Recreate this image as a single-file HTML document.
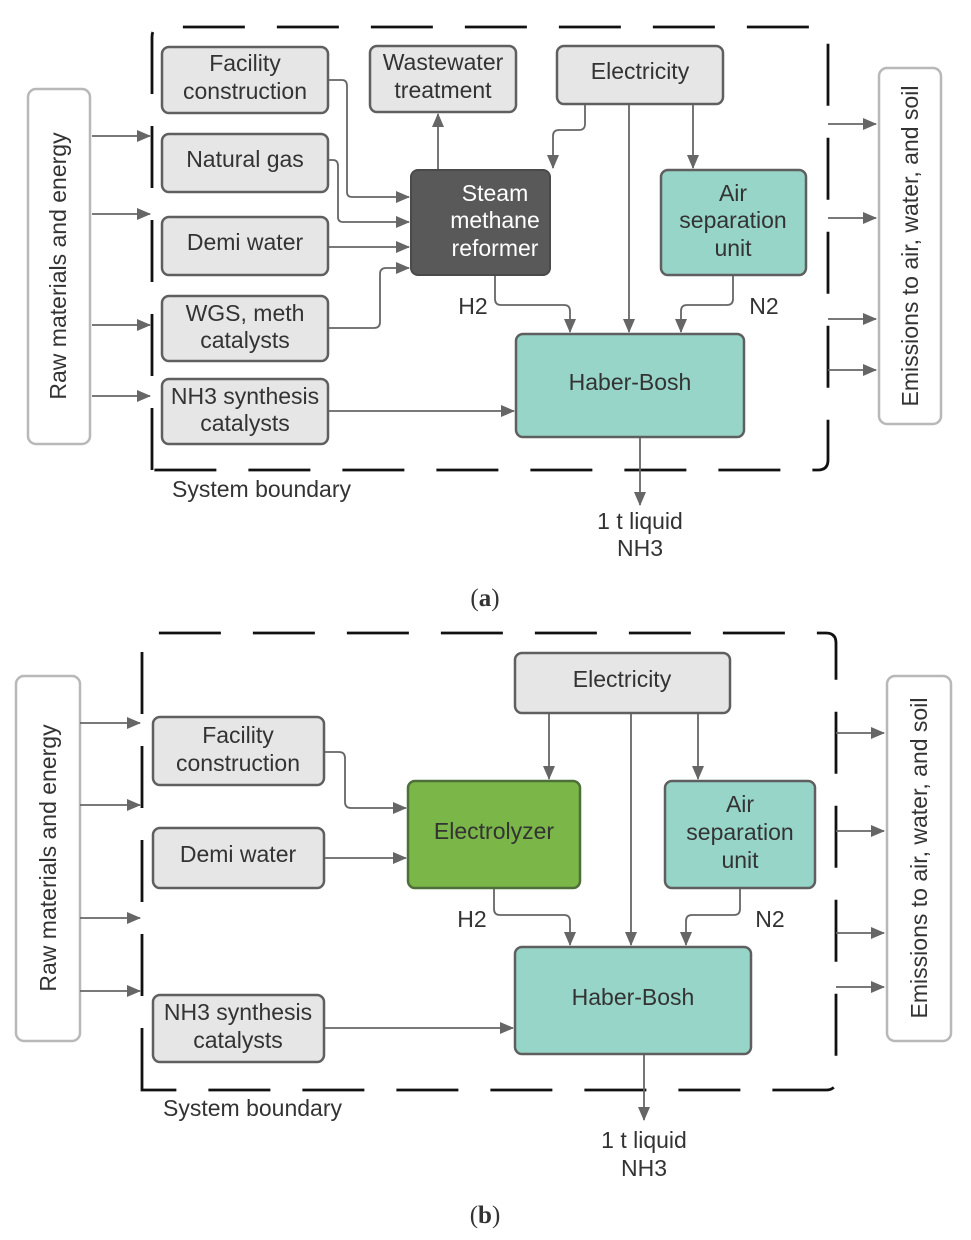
<!DOCTYPE html>
<html><head><meta charset="utf-8"><style>
html,body{margin:0;padding:0;background:#fff;}
svg{display:block;}
text{font-family:"Liberation Sans",sans-serif;fill:#333;}
.b{fill:#e6e6e6;stroke:#5f5f5f;stroke-width:2.5;}
.t{fill:#97d5c9;stroke:#5f5f5f;stroke-width:2.5;}
.o{fill:#fff;stroke:#b8b8b8;stroke-width:2.5;}
.c{fill:none;stroke:#666;stroke-width:1.8;}
.d{fill:none;stroke:#111;stroke-width:2.8;stroke-dasharray:62 32;}
.l{font-size:23px;text-anchor:middle;}
</style></head><body>
<svg width="971" height="1240" viewBox="0 0 971 1240">
<defs><marker id="a" markerWidth="14" markerHeight="12" refX="13" refY="6" orient="auto" markerUnits="userSpaceOnUse" viewBox="0 0 14 12"><path d="M0,0 L14,6 L0,12 z" fill="#666"/></marker></defs>

<!-- Panel a -->
<path class="d" d="M152,470 L152,37 Q152,27 162,27 L818,27 Q828,27 828,37 L828,460 Q828,470 818,470 Z"/>
<rect class="o" x="28" y="89" width="62" height="355" rx="8"/>
<text class="l" transform="translate(66,266) rotate(-90)">Raw materials and energy</text>
<g class="c" marker-end="url(#a)">
<path d="M92,136H150"/><path d="M92,214H150"/><path d="M92,325H150"/><path d="M92,396H150"/>
<path d="M828,124H876"/><path d="M828,218H876"/><path d="M828,319H876"/><path d="M828,370H876"/>
<path d="M328,80H342Q347,80 347,86V192Q347,197 352,197H409"/>
<path d="M328,160H333Q338,160 338,166V217Q338,222 343,222H409"/>
<path d="M328,247H409"/>
<path d="M328,328H374Q380,328 380,322V274Q380,268 386,268H409"/>
<path d="M438,170V114"/>
<path d="M585,104V124Q585,130 579,130H559Q553,130 553,136V168"/>
<path d="M629,104V332"/>
<path d="M693,104V168"/>
<path d="M495,275V299Q495,305 501,305H564Q570,305 570,311V332"/>
<path d="M733,275V299Q733,305 727,305H687Q681,305 681,311V332"/>
<path d="M328,411H514"/>
<path d="M640,437V505"/>
</g>
<rect class="b" x="162" y="47" width="166" height="66" rx="7"/>
<text class="l" x="245" y="71">Facility</text><text class="l" x="245" y="99">construction</text>
<rect class="b" x="162" y="134" width="166" height="58" rx="7"/>
<text class="l" x="245" y="167">Natural gas</text>
<rect class="b" x="162" y="217" width="166" height="58" rx="7"/>
<text class="l" x="245" y="250">Demi water</text>
<rect class="b" x="162" y="296" width="166" height="65" rx="7"/>
<text class="l" x="245" y="321">WGS, meth</text><text class="l" x="245" y="348">catalysts</text>
<rect class="b" x="162" y="379" width="166" height="65" rx="7"/>
<text class="l" x="245" y="404">NH3 synthesis</text><text class="l" x="245" y="431">catalysts</text>
<rect class="b" x="370" y="46" width="146" height="66" rx="7"/>
<text class="l" x="443" y="70">Wastewater</text><text class="l" x="443" y="98">treatment</text>
<rect class="b" x="557" y="46" width="166" height="58" rx="7"/>
<text class="l" x="640" y="79">Electricity</text>
<rect x="411" y="170" width="139" height="105" rx="7" fill="#595959" stroke="#4a4a4a" stroke-width="2"/>
<text class="l" x="495" y="201" style="fill:#fff">Steam</text><text class="l" x="495" y="228" style="fill:#fff">methane</text><text class="l" x="495" y="256" style="fill:#fff">reformer</text>
<rect class="t" x="661" y="170" width="145" height="105" rx="7"/>
<text class="l" x="733" y="201">Air</text><text class="l" x="733" y="228">separation</text><text class="l" x="733" y="256">unit</text>
<rect class="t" x="516" y="334" width="228" height="103" rx="7"/>
<text class="l" x="630" y="390">Haber-Bosh</text>
<text class="l" x="473" y="314">H2</text><text class="l" x="764" y="314">N2</text>
<rect class="o" x="879" y="68" width="62" height="356" rx="8"/>
<text class="l" transform="translate(918,246) rotate(-90)">Emissions to air, water, and soil</text>
<text x="172" y="497" style="font-size:23px">System boundary</text>
<text class="l" x="640" y="529">1 t liquid</text><text class="l" x="640" y="556">NH3</text>
<text class="l" x="485" y="606" style="font-family:'Liberation Serif',serif;font-size:25px">(<tspan style="font-weight:bold;fill:#333">a</tspan>)</text>

<!-- Panel b -->
<path class="d" d="M142,1090 L142,643 Q142,633 152,633 L826,633 Q836,633 836,643 L836,1080 Q836,1090 826,1090 Z"/>
<rect class="o" x="16" y="676" width="64" height="365" rx="8"/>
<text class="l" transform="translate(56,858) rotate(-90)">Raw materials and energy</text>
<g class="c" marker-end="url(#a)">
<path d="M80,723H140"/><path d="M80,805H140"/><path d="M80,918H140"/><path d="M80,991H140"/>
<path d="M836,733H884"/><path d="M836,831H884"/><path d="M836,933H884"/><path d="M836,987H884"/>
<path d="M324,752H339Q345,752 345,758V802Q345,808 351,808H406"/>
<path d="M324,858H406"/>
<path d="M549,713V779"/><path d="M631,713V945"/><path d="M698,713V779"/>
<path d="M494,888V909Q494,915 500,915H564Q570,915 570,921V945"/>
<path d="M740,888V909Q740,915 734,915H692Q686,915 686,921V945"/>
<path d="M324,1028H513"/>
<path d="M644,1054V1120"/>
</g>
<rect class="b" x="153" y="717" width="171" height="68" rx="7"/>
<text class="l" x="238" y="743">Facility</text><text class="l" x="238" y="771">construction</text>
<rect class="b" x="153" y="828" width="171" height="60" rx="7"/>
<text class="l" x="238" y="862">Demi water</text>
<rect class="b" x="153" y="995" width="171" height="67" rx="7"/>
<text class="l" x="238" y="1020">NH3 synthesis</text><text class="l" x="238" y="1048">catalysts</text>
<rect class="b" x="515" y="653" width="215" height="60" rx="7"/>
<text class="l" x="622" y="687">Electricity</text>
<rect x="408" y="781" width="172" height="107" rx="7" fill="#7ab648" stroke="#4f6f3a" stroke-width="2.5"/>
<text class="l" x="494" y="839">Electrolyzer</text>
<rect class="t" x="665" y="781" width="150" height="107" rx="7"/>
<text class="l" x="740" y="812">Air</text><text class="l" x="740" y="840">separation</text><text class="l" x="740" y="868">unit</text>
<rect class="t" x="515" y="947" width="236" height="107" rx="7"/>
<text class="l" x="633" y="1005">Haber-Bosh</text>
<text class="l" x="472" y="927">H2</text><text class="l" x="770" y="927">N2</text>
<rect class="o" x="887" y="676" width="64" height="365" rx="8"/>
<text class="l" transform="translate(927,858) rotate(-90)">Emissions to air, water, and soil</text>
<text x="163" y="1116" style="font-size:23px">System boundary</text>
<text class="l" x="644" y="1148">1 t liquid</text><text class="l" x="644" y="1176">NH3</text>
<text class="l" x="485" y="1223" style="font-family:'Liberation Serif',serif;font-size:25px">(<tspan style="font-weight:bold;fill:#333">b</tspan>)</text>
</svg>
</body></html>
